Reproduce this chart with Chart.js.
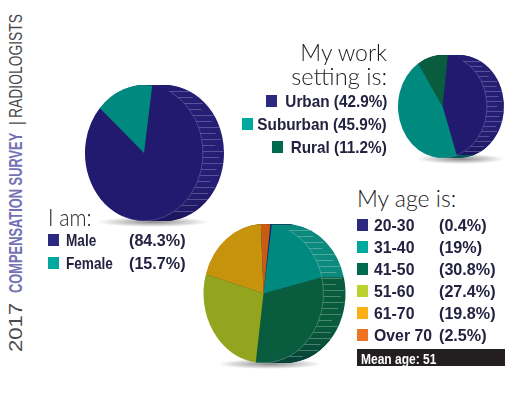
<!DOCTYPE html>
<html>
<head>
<meta charset="utf-8">
<script src="https://cdn.jsdelivr.net/npm/chart.js@4"></script>
<style>
  html, body { margin: 0; padding: 0; background: #fff; }
  body { position: relative; width: 528px; height: 393px; overflow: hidden; }
  canvas { position: absolute; }
  .t { position: absolute; white-space: nowrap; line-height: 1; }
  .title { font: 300 23px Lato, sans-serif; color: #1c1b1e; }
  .item { font: bold 17px "Liberation Sans", sans-serif; color: #232240; }
  .box { position: absolute; width: 11px; height: 12px; }
  .side { position: absolute; left: 7px; transform-origin: 0 0; white-space: nowrap;
          font: 18px "Liberation Sans", sans-serif; color: #4a4a4c; line-height: 1; }
  #mean { position: absolute; left: 357px; top: 349px; width: 148px; height: 17px; background: #231f20; }
</style>
</head>
<body>
<div id="mean"></div>
<canvas id="genderPie"></canvas>
<canvas id="settingPie"></canvas>
<canvas id="agePie"></canvas>
<script>
// Gender
const genderLabels = ["Male", "Female"];
const genderValues = [84.3, 15.7];
const genderFaces = ["#211a6e", "#00897f"];
const genderRims = ["#261f74", "#14286a"];
const genderKeys = ["#2b2a80", "#00a99d"];

// Work setting
const settingLabels = ["Urban", "Suburban", "Rural"];
const settingValues = [42.9, 45.9, 11.2];
const settingFaces = ["#211a6e", "#00897f", "#095c3d"];
const settingRims = ["#261f74", "#0c7f75", "#14286a"];
const settingKeys = ["#2b2a80", "#00a99d", "#006a50"];

// Age
const ageLabels = ["20-30", "31-40", "41-50", "51-60", "61-70", "Over 70"];
const ageValues = [0.4, 19, 30.8, 27.4, 19.8, 2.5];
const ageShown = ["(0.4%)", "(19%)", "(30.8%)", "(27.4%)", "(19.8%)", "(2.5%)"];
const ageFaces = ["#211a6e", "#00897f", "#095c3d", "#93a51f", "#c7930c", "#c75c12"];
const ageRims = ["#0f4468", "#0c8a7e", "#095c3d", "#095c3d", "#0f4468", "#0f4468"];
const ageKeys = ["#2b2a80", "#00a99d", "#006a50", "#bcd02f", "#fbb017", "#ee7322"];

// how far each hatch line runs across the rim
const hatchRuns = [1, 0.72, 0.9, 0.6, 0.95, 0.78];

// Add the thick side of the pie, its hatching and the floor shadow
function sidePlugin(g) {
  const sx = g.rx / g.ry;
  return {
    id: "side",
    beforeDatasetsDraw(chart) {
      const ctx = chart.ctx;
      const arcs = chart.getDatasetMeta(0).data;
      const cx = arcs[0].x, cy = arcs[0].y, r = arcs[0].outerRadius;

      ctx.save();
      for (let d = g.depth; d >= 1; d--) {
        arcs.forEach((arc, i) => {
          ctx.save();
          ctx.translate(cx + d, cy);
          ctx.scale(sx, 1);
          ctx.beginPath();
          ctx.moveTo(0, 0);
          ctx.arc(0, 0, r, arc.startAngle, arc.endAngle);
          ctx.closePath();
          ctx.fillStyle = g.rims[i];
          ctx.fill();
          ctx.restore();
        });
      }

      // rim gets darker towards the floor
      const dark = ctx.createLinearGradient(0, cy + r * 0.45, 0, cy + r);
      dark.addColorStop(0, "rgba(5,5,40,0)");
      dark.addColorStop(1, "rgba(5,5,40,0.3)");
      ctx.globalCompositeOperation = "source-atop";
      ctx.fillStyle = dark;
      ctx.fillRect(0, 0, chart.width, chart.height);
      ctx.globalCompositeOperation = "source-over";

      // hatch lines
      ctx.strokeStyle = g.hatch;
      ctx.lineWidth = 0.7;
      let n = 0;
      for (let y = cy - r + 6; y < cy + r - 6; y += g.step) {
        const k = (y - cy) / r;
        const edge = cx + g.rx * Math.sqrt(1 - k * k);
        const run = g.depth * hatchRuns[n++ % hatchRuns.length];
        ctx.beginPath();
        ctx.moveTo(edge, Math.round(y) + 0.5);
        ctx.lineTo(edge + run, Math.round(y) + 0.5);
        ctx.stroke();
      }

      // shadow under the pie
      ctx.globalCompositeOperation = "destination-over";
      ctx.translate(cx + g.shadowX, cy + r + 1);
      ctx.scale(g.shadowW, 5);
      const sh = ctx.createRadialGradient(0, 0, 0, 0, 0, 1);
      sh.addColorStop(0, "rgba(90,90,90,0.7)");
      sh.addColorStop(1, "rgba(90,90,90,0)");
      ctx.fillStyle = sh;
      ctx.beginPath();
      ctx.arc(0, 0, 1, 0, Math.PI * 2);
      ctx.fill();
      ctx.restore();

      // squeeze the face into an upright ellipse
      ctx.save();
      ctx.translate(cx, cy);
      ctx.scale(sx, 1);
      ctx.translate(-cx, -cy);
    },
    afterDatasetsDraw(chart) {
      const ctx = chart.ctx;
      ctx.restore();
      const arc = chart.getDatasetMeta(0).data[0];
      ctx.save();
      ctx.translate(arc.x, arc.y);
      ctx.scale(sx, 1);
      ctx.beginPath();
      ctx.arc(0, 0, arc.outerRadius, -1.1, 1.95);
      ctx.restore();
      ctx.strokeStyle = g.hatch;
      ctx.lineWidth = 0.6;
      ctx.stroke();
    }
  };
}

function makePie(id, labels, values, faces, g) {
  const pad = 8;
  const canvas = document.getElementById(id);
  const w = 2 * (g.ry + g.depth + pad + 12);
  const h = 2 * (g.ry + pad);
  canvas.width = w;
  canvas.height = h;
  canvas.style.left = (g.cx - w / 2) + "px";
  canvas.style.top = (g.cy - h / 2) + "px";
  canvas.style.width = w + "px";
  canvas.style.height = h + "px";

  new Chart(canvas.getContext("2d"), {
    type: "pie",
    data: {
      labels: labels,
      datasets: [{ data: values, backgroundColor: faces, borderWidth: 0 }]
    },
    options: {
      responsive: false,
      animation: false,
      rotation: g.rotation,
      layout: { padding: pad },
      plugins: { legend: { display: false }, tooltip: { enabled: false } }
    },
    plugins: [sidePlugin(g)]
  });
}

makePie("genderPie", genderLabels, genderValues, genderFaces, {
  cx: 144, cy: 153, rx: 59, ry: 68, depth: 21, rotation: 8, step: 6,
  rims: genderRims, hatch: "rgba(190,190,235,0.45)", shadowX: 9, shadowW: 56
});
makePie("settingPie", settingLabels, settingValues, settingFaces, {
  cx: 442.5, cy: 106.5, rx: 44.5, ry: 51.5, depth: 17, rotation: 7, step: 5,
  rims: settingRims, hatch: "rgba(190,190,235,0.45)", shadowX: 18, shadowW: 44
});
makePie("agePie", ageLabels, ageValues, ageFaces, {
  cx: 263, cy: 293.5, rx: 60, ry: 69.5, depth: 22, rotation: 6.5, step: 6,
  rims: ageRims, hatch: "rgba(210,235,225,0.45)", shadowX: 6, shadowW: 52
});

// Text and colour keys
function addText(text, cls, x, y, squeeze, rightAlign) {
  const el = document.createElement("div");
  el.className = "t " + cls;
  el.textContent = text;
  el.style.top = y + "px";
  if (rightAlign) el.style.right = (528 - x) + "px";
  else el.style.left = x + "px";
  el.style.transformOrigin = rightAlign ? "100% 0" : "0 0";
  el.style.transform = "scaleX(" + squeeze + ")";
  document.body.appendChild(el);
  return el;
}
function addBox(color, x, y) {
  const el = document.createElement("div");
  el.className = "box";
  el.style.background = color;
  el.style.left = x + "px";
  el.style.top = y + "px";
  document.body.appendChild(el);
}
// Vertical text at the left edge, fitted to the length it has there
function addSide(text, bottom, length, bold) {
  const el = document.createElement("div");
  el.className = "side";
  el.textContent = text;
  el.style.top = bottom + "px";
  if (bold) {
    el.style.fontWeight = "bold";
    el.style.color = "#7472b4";
  }
  document.body.appendChild(el);
  el.style.transform = "rotate(-90deg) scaleX(" + (length / el.offsetWidth) + ")";
}

addSide("2017", 352, 49);
addSide("COMPENSATION SURVEY", 293, 160, true);
addSide("|", 125, 4);
addSide("RADIOLOGISTS", 118, 104);

addText("I am:", "title", 48, 203, 0.92);
genderLabels.forEach((name, i) => {
  const y = 234 + i * 23;
  addBox(genderKeys[i], 48, y);
  addText(name, "item", 66, y - 3, 0.8);
  addText("(" + genderValues[i] + "%)", "item", 129, y - 3, 0.95);
});

addText("My work", "title", 387, 38, 1, true);
addText("setting is:", "title", 387, 62, 1.03, true);
const settingBoxX = [266, 242, 272];
settingLabels.forEach((name, i) => {
  const y = 95 + i * 23;
  addBox(settingKeys[i], settingBoxX[i], y);
  addText(name + " (" + settingValues[i] + "%)", "item", 387, y - 3, 0.9, true);
});

addText("My age is:", "title", 357, 184, 1);
ageLabels.forEach((name, i) => {
  const y = 219 + i * 22;
  addBox(ageKeys[i], 357, y);
  addText(name, "item", 374, y - 3, 0.93);
  addText(ageShown[i], "item", 439, y - 3, 0.95);
});

const meanText = addText("Mean age: 51", "item", 361, 349.5, 0.8);
meanText.style.color = "#fff";
meanText.style.fontSize = "15px";
</script>
</body>
</html>
